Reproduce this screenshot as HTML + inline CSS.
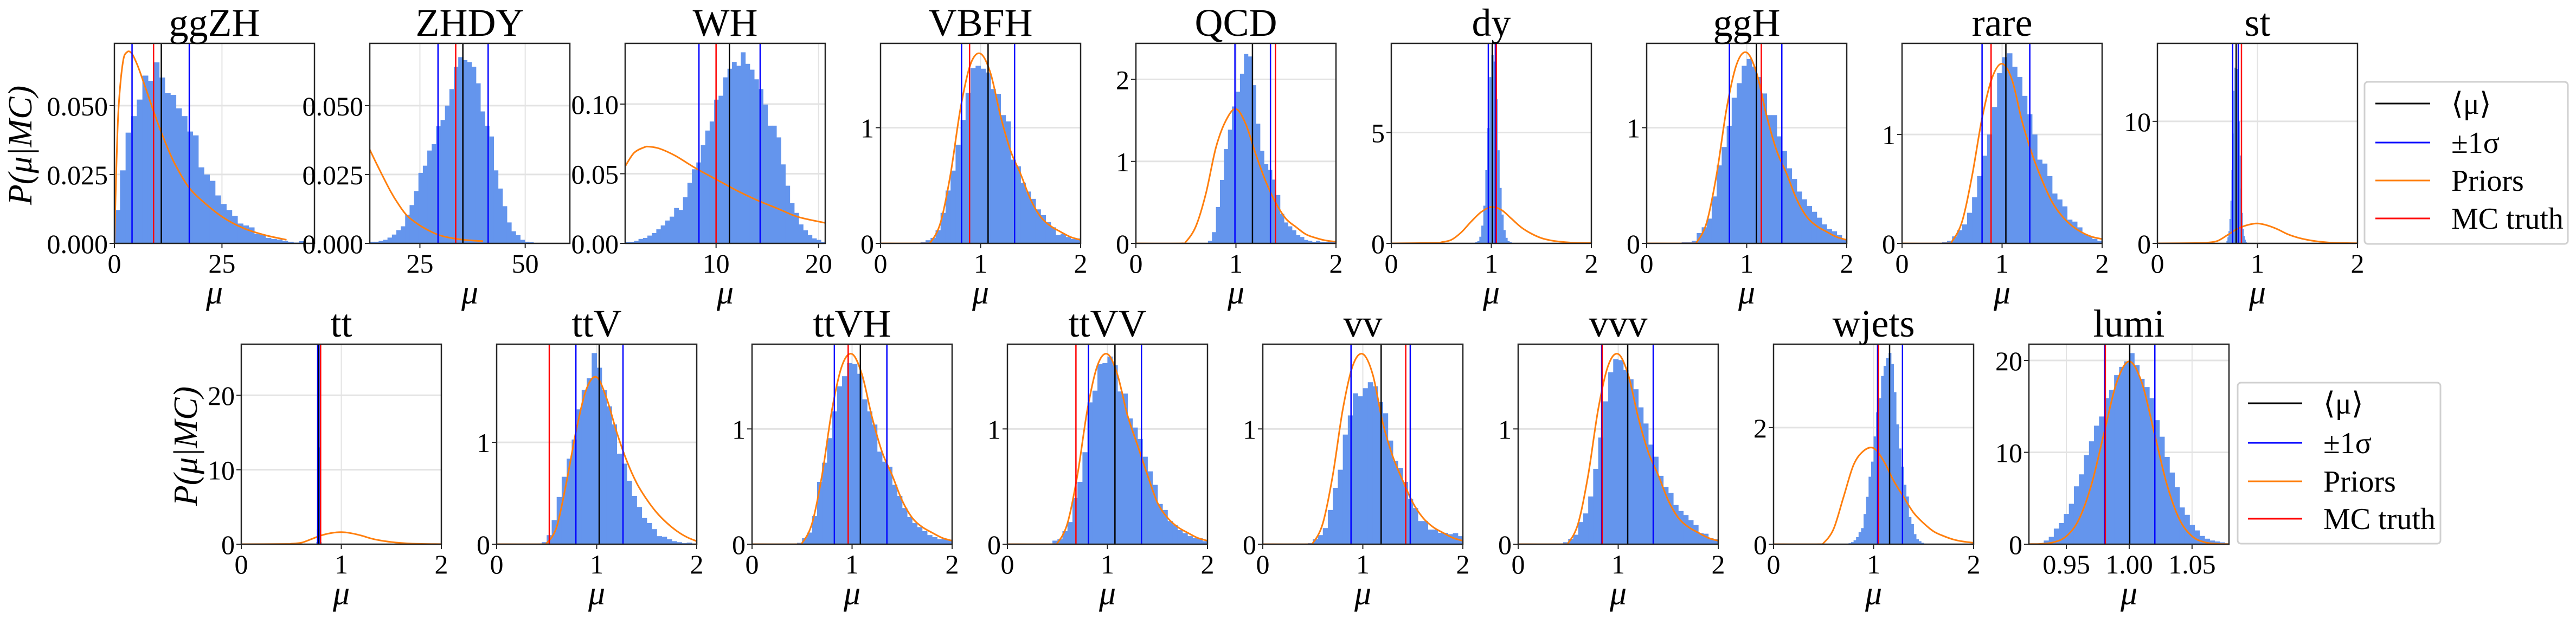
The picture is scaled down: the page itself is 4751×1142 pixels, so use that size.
<!DOCTYPE html>
<html><head><meta charset="utf-8"><style>
html,body{margin:0;padding:0;background:#fff;}
svg{display:block;}
text{font-family:"Liberation Serif",serif;fill:#000;}
</style></head><body>
<svg id="fig" xmlns="http://www.w3.org/2000/svg" width="4751" height="1142" viewBox="0 0 4751 1142">
<rect x="0" y="0" width="4751" height="1142" fill="#fff"/>
<defs id="defs"></defs>
</svg>
<script>
const names = ["ggZH","ZHDY","WH","VBFH","QCD","dy","ggH","rare","st","tt","ttV","ttVH","ttVV","vv","vvv","wjets","lumi"];
const xMin = [0,13.1,1.13,0,0,0,0,0,0,0,0,0,0,0,0,0,0.9202];
const xMax = [46.5,60.6,20.65,2,2,2,2,2,2,2,2,2,2,2,2,2,1.0794];
const yMax = [0.0726,0.0726,0.1436,1.729,2.44,9.02,1.729,1.837,16.39,26.86,1.964,1.735,1.735,1.735,1.735,3.43,21.77];
const xTicks = [[0,25],[25,50],[10,20],[0,1,2],[0,1,2],[0,1,2],[0,1,2],[0,1,2],[0,1,2],[0,1,2],[0,1,2],[0,1,2],[0,1,2],[0,1,2],[0,1,2],[0,1,2],[0.95,1.0,1.05]];
const xTickLabels = [["0","25"],["25","50"],["10","20"],["0","1","2"],["0","1","2"],["0","1","2"],["0","1","2"],["0","1","2"],["0","1","2"],["0","1","2"],["0","1","2"],["0","1","2"],["0","1","2"],["0","1","2"],["0","1","2"],["0","1","2"],["0.95","1.00","1.05"]];
const yTicks = [[0,0.025,0.05],[0,0.025,0.05],[0,0.05,0.10],[0,1],[0,1,2],[0,5],[0,1],[0,1],[0,10],[0,10,20],[0,1],[0,1],[0,1],[0,1],[0,1],[0,2],[0,10,20]];
const yTickLabels = [["0.000","0.025","0.050"],["0.000","0.025","0.050"],["0.00","0.05","0.10"],["0","1"],["0","1","2"],["0","5"],["0","1"],["0","1"],["0","10"],["0","10","20"],["0","1"],["0","1"],["0","1"],["0","1"],["0","1"],["0","2"],["0","10","20"]];
const meanVals = [10.9,35.2,11.3,1.075,1.165,1.01,1.097,1.038,0.787,0.772,1.025,1.083,1.075,1.183,1.095,1.16,1.0004];
const sigLo = [4.1,29.3,8.33,0.81,0.99,0.97,0.827,0.80,0.752,0.764,0.792,0.823,0.81,0.882,0.835,1.04,0.9804];
const sigHi = [17.4,41.2,14.3,1.34,1.345,1.04,1.351,1.277,0.808,0.777,1.263,1.348,1.34,1.474,1.35,1.289,1.0204];
const truthVals = [9.1,33.5,10.0,0.89,1.395,1.05,1.146,0.89,0.84,0.793,0.526,0.961,0.685,1.429,0.84,1.048,0.981];
const histStart = [0,13.1,1.13,0,0,0.84,0.35,0.4,0.69,0.75,0.4,0.4,0.4,0.4,0.4,0.75,0.928];
const histWidth = [1.3,1.05,0.434,0.05,0.04,0.02,0.05,0.05,0.01,0.005,0.05,0.05,0.05,0.05,0.05,0.025,0.004];
const histValues = [
[0.0121,0.0265,0.0402,0.0462,0.0522,0.0609,0.0590,0.0657,0.0602,0.0545,0.0539,0.0490,0.0462,0.0406,0.0392,0.0276,0.0250,0.0227,0.0174,0.0143,0.0121,0.0100,0.0072,0.0065,0.0058,0.0034,0.0030,0.0020,0.0016,0.0014,0.0009,0.0006,0.0003,0.0008],
[0.0006,0.0006,0.0009,0.0013,0.0021,0.0032,0.0048,0.0062,0.0104,0.0139,0.019,0.0256,0.0282,0.0337,0.036,0.0425,0.0448,0.05,0.056,0.0641,0.0676,0.0665,0.0658,0.0641,0.0581,0.0479,0.0427,0.0388,0.0265,0.0199,0.0135,0.0076,0.0044,0.003,0.0013,0.0006,0.0004],
[0.0011,0.0011,0.0018,0.0032,0.0039,0.0056,0.0074,0.0101,0.0129,0.0164,0.0192,0.0254,0.024,0.0331,0.0435,0.0532,0.0581,0.0706,0.081,0.0875,0.1032,0.106,0.1192,0.1254,0.1303,0.1275,0.1372,0.1289,0.1247,0.1178,0.1108,0.0997,0.0845,0.0845,0.0761,0.0567,0.0414,0.0289,0.0219,0.0136,0.0094,0.006,0.0036,0.0025,0.0011],
[0,0,0,0,0,0,0,0,0.013,0.027,0.047,0.114,0.264,0.457,0.629,0.853,1.067,1.301,1.515,1.535,1.51,1.477,1.334,1.293,1.109,1.054,0.724,0.666,0.524,0.448,0.385,0.294,0.244,0.184,0.139,0.072,0.084,0.055,0.038,0.043],
[0,0,0,0,0,0,0,0,0,0,0,0,0,0,0,0,0,0,0.031,0.137,0.443,0.774,1.15,1.387,1.67,1.85,2.07,2.31,2.28,1.93,1.46,1.13,0.967,0.896,0.778,0.59,0.36,0.255,0.208,0.16,0.1,0.078,0.042,0.031,0.019,0.031,0.019,0.019,0.024,0.014],
[0.05,0.1,0.3,0.8,1.7,3.3,5.2,7.5,8.5,8.2,6.5,4.2,2.5,1.3,0.6,0.25,0.1,0.05],
[0.01,0.01,0.022,0.089,0.139,0.214,0.406,0.674,0.833,1.017,1.259,1.385,1.535,1.594,1.528,1.438,1.296,1.109,1.109,0.925,0.799,0.649,0.557,0.448,0.381,0.323,0.273,0.222,0.164,0.125,0.105,0.072,0.038],
[0.011,0.023,0.064,0.121,0.174,0.281,0.423,0.618,0.805,1.0,1.252,1.563,1.71,1.746,1.622,1.528,1.355,1.186,1.0,0.769,0.733,0.618,0.458,0.403,0.34,0.218,0.2,0.147,0.085,0.068,0.041,0.023],
[0.2,0.5,1.0,2,3.5,6,9,12.5,14.4,13.0,14.3,12.8,10,7.2,4.5,2.5,1.2,0.6,0.3,0.1],
[0.3,2,9,16,24,22,13,5,1.5,0.3],
[0.006,0.02,0.089,0.237,0.464,0.662,0.84,1.028,1.324,1.516,1.63,1.877,1.733,1.512,1.354,1.176,0.889,0.791,0.623,0.474,0.366,0.257,0.208,0.148,0.079,0.073,0.049,0.03,0.02,0.01,0.016,0.006],
[0.003,0.012,0.052,0.101,0.244,0.541,0.707,0.92,1.152,1.37,1.457,1.571,1.562,1.478,1.257,1.152,1.038,0.803,0.716,0.672,0.515,0.419,0.314,0.236,0.183,0.148,0.113,0.079,0.061,0.044,0.047,0.04],
[0,0.031,0.044,0.113,0.192,0.401,0.541,0.798,1.23,1.332,1.562,1.571,1.628,1.553,1.325,1.307,1.091,1.012,0.913,0.759,0.632,0.515,0.349,0.297,0.201,0.166,0.122,0.096,0.07,0.052,0.052,0.026],
[0,0.009,0.044,0.079,0.14,0.297,0.489,0.646,0.951,1.117,1.309,1.283,1.353,1.405,1.37,1.232,1.136,0.899,0.724,0.663,0.541,0.393,0.314,0.201,0.201,0.127,0.127,0.099,0.099,0.087,0.096,0.07],
[0,0.017,0.047,0.082,0.192,0.267,0.414,0.654,0.925,1.239,1.492,1.606,1.597,1.51,1.431,1.344,1.187,1.047,0.864,0.759,0.593,0.497,0.445,0.34,0.288,0.253,0.209,0.166,0.096,0.091,0.052,0.044],
[0.017,0.035,0.069,0.121,0.207,0.276,0.518,0.812,1.157,1.416,1.848,2.263,2.505,2.884,3.057,3.195,3.281,3.091,2.608,2.055,1.641,1.33,1.019,0.818,0.466,0.345,0.173,0.086,0.052,0.024,0.01],
[0.1,0.4,0.8,1.7,2.3,3.3,4.4,6.3,7.6,9.7,11.2,12.9,13.9,15.9,16.8,18.4,19.3,19.9,20.8,19.5,18.0,17.1,15.9,13.5,11.7,9.5,7.8,6.2,4.0,3.2,2.1,1.5,0.9,0.6,0.4,0.3,0.2,0.1]
];
const priorGrid = [0,0.45,0.5,0.6,0.7,0.8,0.9,1.0,1.1,1.2,1.3,1.4,1.5,1.6,1.7,1.8,1.9,2.0];
const priorX = [
[0,0.5,1,2,3,4,5,6,8,10,12,14,17,20,25,30,35,40],
[13.1,15,18,20,22,25,28,30,33,36,40],
[1.13,2,3,3.5,4.5,6,8,10,12,14,16,18,20.65],
priorGrid,priorGrid,priorGrid,priorGrid,priorGrid,priorGrid,priorGrid,priorGrid,priorGrid,priorGrid,priorGrid,priorGrid,priorGrid,
[0.92,0.93,0.94,0.95,0.96,0.97,0.98,0.99,1.0,1.01,1.02,1.03,1.04,1.05,1.06,1.07,1.08]
];
const priorY = [
[0.0,0.03,0.05,0.066,0.0695,0.069,0.066,0.062,0.053,0.044,0.036,0.029,0.021,0.016,0.0097,0.0055,0.003,0.0013],
[0.034,0.028,0.019,0.014,0.010,0.0065,0.004,0.0028,0.0018,0.0012,0.0008],
[0.0553,0.065,0.069,0.0694,0.068,0.063,0.054,0.046,0.038,0.031,0.025,0.019,0.0147],
[0,0,0.01,0.18,0.6,1.17,1.55,1.64,1.47,1.10,0.8,0.6,0.38,0.23,0.15,0.1,0.055,0.03],
[0,0,0.02,0.21,0.61,1.17,1.5,1.64,1.45,1.08,0.75,0.49,0.3,0.2,0.11,0.066,0.035,0.02],
[0,0.02,0.05,0.16,0.5,0.99,1.42,1.64,1.51,1.12,0.72,0.44,0.24,0.13,0.07,0.035,0.018,0.01],
[0,0,0.01,0.18,0.6,1.17,1.55,1.65,1.47,1.10,0.8,0.6,0.38,0.23,0.15,0.1,0.055,0.03],
[0,0,0.02,0.2,0.62,1.15,1.52,1.65,1.5,1.12,0.82,0.58,0.38,0.25,0.16,0.1,0.06,0.04],
[0,0.03,0.06,0.2,0.68,1.19,1.5,1.63,1.47,1.16,0.76,0.48,0.29,0.16,0.08,0.04,0.02,0.01],
[0,0.03,0.06,0.2,0.68,1.19,1.5,1.62,1.47,1.16,0.76,0.48,0.29,0.16,0.08,0.04,0.02,0.01],
[0,0,0.01,0.17,0.62,1.14,1.53,1.64,1.43,1.1,0.82,0.6,0.44,0.31,0.21,0.13,0.07,0.03],
[0,0,0.01,0.18,0.6,1.17,1.55,1.65,1.47,1.10,0.8,0.6,0.38,0.23,0.15,0.1,0.055,0.03],
[0,0,0.01,0.18,0.6,1.17,1.55,1.65,1.47,1.12,0.86,0.6,0.36,0.23,0.15,0.1,0.055,0.03],
[0,0,0.01,0.18,0.6,1.17,1.55,1.65,1.47,1.05,0.76,0.55,0.36,0.23,0.15,0.1,0.055,0.03],
[0,0,0.01,0.18,0.6,1.17,1.55,1.65,1.47,1.10,0.8,0.6,0.38,0.23,0.15,0.1,0.055,0.03],
[0,0,0.02,0.26,0.81,1.36,1.6,1.648,1.43,1.09,0.81,0.54,0.36,0.22,0.14,0.08,0.045,0.024],
[0.01,0.04,0.22,0.87,2.7,6.5,12.1,17.6,19.9,17.6,12.1,6.5,2.7,0.87,0.22,0.04,0.01]
];
const legendLabels = ["\u27E8\u03BC\u27E9","\u00B11\u03C3","Priors","MC truth"];
const legendColors = ["#000000","#0000ff","#ff7f0e","#ff0000"];

const NS = 'http://www.w3.org/2000/svg';
const svg = document.getElementById('fig');
const defs = document.getElementById('defs');
function mk(tag, attrs, parent) {
  const el = document.createElementNS(NS, tag);
  for (const k in attrs) el.setAttribute(k, attrs[k]);
  (parent || svg).appendChild(el);
  return el;
}
function smoothPath(pts) {
  let d = 'M' + pts[0][0].toFixed(2) + ',' + pts[0][1].toFixed(2);
  for (let i = 0; i < pts.length - 1; i++) {
    const p0 = pts[Math.max(i - 1, 0)], p1 = pts[i], p2 = pts[i + 1], p3 = pts[Math.min(i + 2, pts.length - 1)];
    const c1x = p1[0] + (p2[0] - p0[0]) / 6, c1y = p1[1] + (p2[1] - p0[1]) / 6;
    const c2x = p2[0] - (p3[0] - p1[0]) / 6, c2y = p2[1] - (p3[1] - p1[1]) / 6;
    d += ' C' + c1x.toFixed(2) + ',' + c1y.toFixed(2) + ' ' + c2x.toFixed(2) + ',' + c2y.toFixed(2) + ' ' + p2[0].toFixed(2) + ',' + p2[1].toFixed(2);
  }
  return d;
}

const W = 369, H = 369;
names.forEach((name, i) => {
  const row = i < 9 ? 0 : 1;
  const col = row === 0 ? i : i - 9;
  const left = row === 0 ? 211 + 471 * col : 445 + 471 * col;
  const top = row === 0 ? 80 : 635;
  const bottom = top + H;
  const sx = v => left + (v - xMin[i]) / (xMax[i] - xMin[i]) * W;
  const sy = v => bottom - v / yMax[i] * H;

  const g = mk('g', {});
  
  

  const cp = mk('clipPath', {id: 'clip' + i}, defs);
  mk('rect', {x: left, y: top, width: W, height: H}, cp);

  xTicks[i].forEach(t => {
    const gl = mk('line', {x1: sx(t), x2: sx(t), y1: top, y2: bottom, stroke: '#e3e3e3', 'stroke-width': 2}, g);
    
    
  });
  yTicks[i].forEach(t => {
    const gl = mk('line', {x1: left, x2: left + W, y1: sy(t), y2: sy(t), stroke: '#e3e3e3', 'stroke-width': 3}, g);
    
    
  });

  const inner = mk('g', {'clip-path': 'url(#clip' + i + ')'}, g);
  histValues[i].forEach((v, k) => {
    const x0 = sx(histStart[i] + k * histWidth[i]);
    const x1 = sx(histStart[i] + (k + 1) * histWidth[i]);
    const r = mk('rect', {x: x0, y: sy(v), width: Math.max(x1 - x0 + 0.6, 1), height: Math.max(bottom - sy(v), 0), fill: '#6495ed'}, inner);
    
    
  });
  const pts = priorX[i].map((x, k) => [sx(x), sy(priorY[i][k])]);
  const pr = mk('path', {d: smoothPath(pts), fill: 'none', stroke: '#ff7f0e', 'stroke-width': 3}, inner);
  
  
  [[sigLo[i], '#0000ff', 'sigma-low-line'], [sigHi[i], '#0000ff', 'sigma-high-line'], [meanVals[i], '#000000', 'mean-line'], [truthVals[i], '#ff0000', 'mc-truth-line']].forEach(([v, c, nm]) => {
    const ln = mk('line', {x1: sx(v), x2: sx(v), y1: top, y2: bottom, stroke: c, 'stroke-width': 2.5}, inner);
    
    
  });

  const sp = mk('rect', {x: left, y: top, width: W, height: H, fill: 'none', stroke: '#262626', 'stroke-width': 2.5}, g);
  
  

  xTicks[i].forEach((t, k) => {
    const tk = mk('line', {x1: sx(t), x2: sx(t), y1: bottom, y2: bottom + 9, stroke: '#262626', 'stroke-width': 2}, g);
    
    
    const tx = mk('text', {x: sx(t), y: bottom + 54, 'font-size': 50, 'text-anchor': 'middle'}, g);
    tx.textContent = xTickLabels[i][k];
    
    
  });
  yTicks[i].forEach((t, k) => {
    const tk = mk('line', {x1: left - 9, x2: left, y1: sy(t), y2: sy(t), stroke: '#262626', 'stroke-width': 2}, g);
    
    
    const tx = mk('text', {x: left - 12, y: sy(t) + 18, 'font-size': 50, 'text-anchor': 'end'}, g);
    tx.textContent = yTickLabels[i][k];
    
    
  });
  const tt = mk('text', {x: left + W / 2, y: top - 14, 'font-size': 72, 'text-anchor': 'middle'}, g);
  tt.textContent = name;
  
  
  const xl = mk('text', {x: left + W / 2, y: bottom + 111, 'font-size': 62, 'font-style': 'italic', 'text-anchor': 'middle'}, g);
  xl.textContent = '\u03BC';
  
  
  if (col === 0) {
    const cx = row === 0 ? 58 : 363, cy = row === 0 ? 268 : 823;
    const yl = mk('text', {x: cx, y: cy, 'font-size': 62, 'font-style': 'italic', 'text-anchor': 'middle', transform: 'rotate(-90 ' + cx + ' ' + cy + ')'}, g);
    yl.textContent = 'P(\u03BC|MC)';
    
    
  }
});

[[4361, 151, 375, 299, [191, 263, 333, 403], 4381, 4482, 4521], [4127, 706, 374, 297, [744, 817, 888, 957], 4146, 4246, 4285]].forEach((L, li) => {
  const lg = mk('g', {});
  
  
  mk('rect', {x: L[0], y: L[1], width: L[2], height: L[3], rx: 6, fill: '#fff', stroke: '#d0d0d0', 'stroke-width': 3}, lg);
  legendLabels.forEach((lab, k) => {
    const e = mk('g', {}, lg);
    
    
    mk('line', {x1: L[5], x2: L[6], y1: L[4][k], y2: L[4][k], stroke: legendColors[k], 'stroke-width': 3}, e);
    const t = mk('text', {x: L[7], y: L[4][k] + 19, 'font-size': 56}, e);
    t.textContent = lab;
  });
});
</script>
</body></html>
